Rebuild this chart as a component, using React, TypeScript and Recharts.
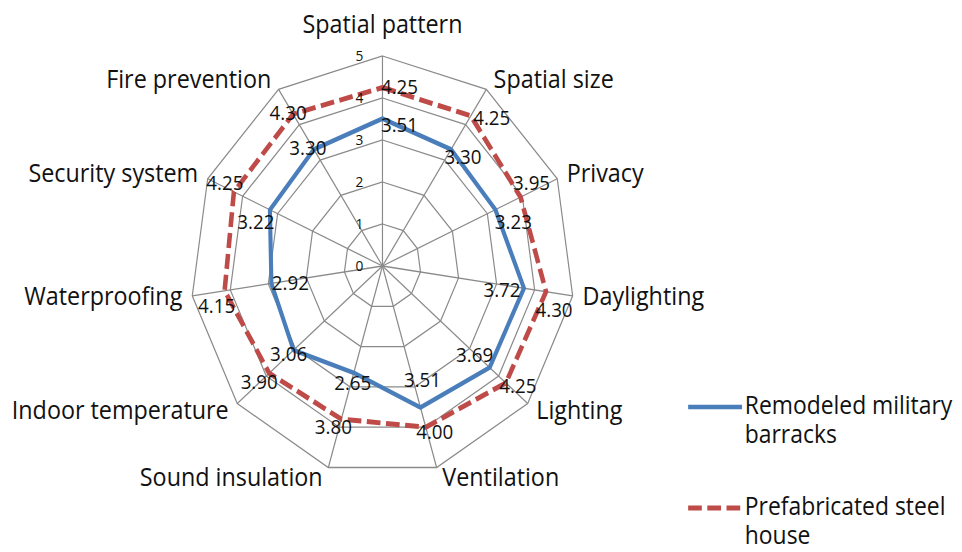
import React from 'react';
import {
  LabelList,
  Legend,
  PolarAngleAxis,
  PolarGrid,
  PolarRadiusAxis,
  Radar,
  RadarChart,
} from 'recharts';

const criteria = [
  'Spatial pattern',
  'Spatial size',
  'Privacy',
  'Daylighting',
  'Lighting',
  'Ventilation',
  'Sound insulation',
  'Indoor temperature',
  'Waterproofing',
  'Security system',
  'Fire prevention',
];

const remodeledScores = [3.51, 3.3, 3.23, 3.72, 3.69, 3.51, 2.65, 3.06, 2.92, 3.22, 3.3];
const prefabScores = [4.25, 4.25, 3.95, 4.3, 4.25, 4.0, 3.8, 3.9, 4.15, 4.25, 4.3];

const scaleTicks = [0, 1, 2, 3, 4, 5];

const seriesNames = ['Remodeled military barracks', 'Prefabricated steel house'];

// where each value label sits relative to its point, [dx, dy] in on-screen px
const remodeledNudge: [number, number][] = [
  [17, 6], [12, 8], [18, 12], [-22, 2], [-15, -12], [2, -27],
  [-1, 10], [-5, 4], [19, 0], [-14, 12], [-6, -1],
];
const prefabNudge: [number, number][] = [
  [17, 0], [21, 2], [11, -14], [8, 18], [12, 3], [9, 5],
  [-8, 8], [-10, 9], [-8, 15], [-9, -9], [-5, -1],
];

// the whole figure is drawn wide and squeezed horizontally
const SQUEEZE = 0.915;
const WIDTH = Math.round(962 / SQUEEZE);
const HEIGHT = 552;
const CX = 418;
const CY = 266;
const OUTER = 210;

const FONT = '"Open Sans", Lato, sans-serif';
const INK = '#111';
const BLUE = '#4A7EBB';
const RED = '#BE4B48';
const GRID = '#8A8A8A';

const rows = criteria.map((criterion, i) => ({
  criterion,
  remodeled: remodeledScores[i],
  prefab: prefabScores[i],
}));

const AngleTick = (props: any) => {
  const { payload } = props;
  const cx = typeof props.cx === 'number' ? props.cx : CX;
  const cy = typeof props.cy === 'number' ? props.cy : CY;
  const r = typeof props.radius === 'number' ? props.radius : OUTER;
  const i = payload?.index ?? props.index ?? 0;
  const deg =
    typeof payload?.coordinate === 'number' ? payload.coordinate : 90 - (i * 360) / criteria.length;
  const rad = (deg * Math.PI) / 180;
  // sine / cosine of the clockwise angle measured from the top
  const s = Math.cos(rad);
  const c = Math.sin(rad);
  const vx = cx + r * s;
  const vy = cy - r * c;

  let x = vx;
  let y = vy - 23;
  let anchor: 'start' | 'middle' | 'end' = 'middle';
  if (Math.abs(s) > 0.05) {
    x = vx + (Math.sign(s) * (4 + 6 * Math.abs(s))) / SQUEEZE;
    y = vy + 8 - 11 * c;
    anchor = s > 0 ? 'start' : 'end';
  }
  return (
    <text x={x} y={y} textAnchor={anchor} fontSize={25.5} fontFamily={FONT} fill={INK}>
      {payload.value}
    </text>
  );
};

const RadiusTick = (props: any) => {
  const { x, y, payload } = props;
  return (
    <text x={x - 21} y={y + 5.5} textAnchor="end" fontSize={15} fontFamily={FONT} fill={INK}>
      {payload.value}
    </text>
  );
};

function pointOf(p: any) {
  if (typeof p.x === 'number' && typeof p.y === 'number') return { x: p.x, y: p.y };
  const vb = p.viewBox ?? {};
  if (typeof vb.x === 'number' && typeof vb.y === 'number') return { x: vb.x, y: vb.y };
  if (typeof vb.cx === 'number') {
    const a = (vb.startAngle * Math.PI) / 180;
    return { x: vb.cx + vb.outerRadius * Math.cos(a), y: vb.cy - vb.outerRadius * Math.sin(a) };
  }
  return { x: 0, y: 0 };
}

const valueLabel = (nudge: [number, number][]) => (props: any) => {
  const { value, index } = props;
  const { x, y } = pointOf(props);
  const [dx, dy] = nudge[index] ?? [0, 0];
  return (
    <text
      x={x + dx / SQUEEZE}
      y={y + dy + 7}
      textAnchor="middle"
      fontSize={20.5}
      fontFamily={FONT}
      fill={INK}
    >
      {Number(value).toFixed(2)}
    </text>
  );
};

const seriesKeys = ['remodeled', 'prefab'];
const legendLook: Record<string, { color: string; width: number; dash?: string }> = {
  remodeled: { color: BLUE, width: 4.5 },
  prefab: { color: RED, width: 5, dash: '15 6' },
};

const LegendBox = ({ payload }: any) => {
  const items = [...(payload ?? [])].sort(
    (a: any, b: any) => seriesKeys.indexOf(a.dataKey) - seriesKeys.indexOf(b.dataKey),
  );
  return (
    <div style={{ fontFamily: FONT, fontSize: 25, lineHeight: '29px', color: INK }}>
      {items.map((entry: any, i: number) => {
        const words = String(entry.value).split(' ');
        const last = words.pop();
        const look = legendLook[entry.dataKey] ?? legendLook.remodeled;
        return (
          <div key={String(entry.value)} style={{ display: 'flex', marginTop: i ? 43 : 0 }}>
            <svg width={62} height={29} style={{ flex: 'none' }}>
              <line
                x1={0}
                y1={17}
                x2={59}
                y2={17}
                stroke={look.color}
                strokeWidth={look.width}
                strokeDasharray={look.dash}
              />
            </svg>
            <div style={{ whiteSpace: 'nowrap' }}>
              {words.join(' ')}
              <br />
              {last}
            </div>
          </div>
        );
      })}
    </div>
  );
};

export default function App() {
  return (
    <div
      style={{
        position: 'fixed',
        left: 0,
        top: 0,
        width: WIDTH,
        height: HEIGHT,
        background: '#fff',
        transform: `scaleX(${SQUEEZE})`,
        transformOrigin: '0 0',
      }}
    >
      <RadarChart
        width={WIDTH}
        height={HEIGHT}
        data={rows}
        cx={CX}
        cy={CY}
        outerRadius={OUTER}
        margin={{ top: 0, right: 0, bottom: 0, left: 0 }}
      >
        <PolarGrid gridType="polygon" stroke={GRID} strokeWidth={1.3} />
        <PolarAngleAxis dataKey="criterion" tick={<AngleTick />} tickLine={false} axisLine={false} />
        <PolarRadiusAxis
          angle={90}
          domain={[0, 5]}
          ticks={scaleTicks as any}
          tickCount={6}
          tick={<RadiusTick />}
          axisLine={false}
          tickLine={false}
        />
        <Radar
          name={seriesNames[0]}
          dataKey="remodeled"
          stroke={BLUE}
          strokeWidth={4.5}
          fill="none"
          fillOpacity={0}
          dot={false}
          strokeLinejoin="round"
          isAnimationActive={false}
        >
          <LabelList dataKey="remodeled" content={valueLabel(remodeledNudge)} />
        </Radar>
        <Radar
          name={seriesNames[1]}
          dataKey="prefab"
          stroke={RED}
          strokeWidth={5}
          strokeDasharray="15 6"
          fill="none"
          fillOpacity={0}
          dot={false}
          strokeLinejoin="round"
          isAnimationActive={false}
        >
          <LabelList dataKey="prefab" content={valueLabel(prefabNudge)} />
        </Radar>
        <Legend
          layout="vertical"
          align="center"
          verticalAlign="middle"
          content={<LegendBox />}
          wrapperStyle={{ left: 752, top: 390, width: 300, height: 'auto' }}
        />
      </RadarChart>
    </div>
  );
}
